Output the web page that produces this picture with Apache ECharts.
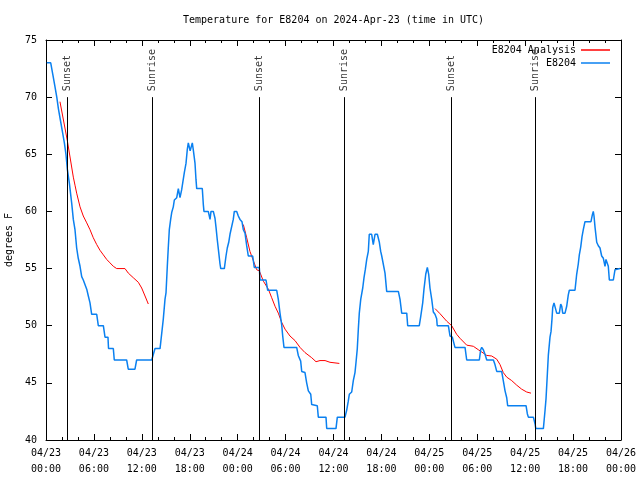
<!DOCTYPE html>
<html><head><meta charset="utf-8">
<script src="https://cdn.jsdelivr.net/npm/echarts@6/dist/echarts.min.js"></script>
<style>html,body{margin:0;padding:0;background:#fff}#c{width:640px;height:480px}</style>
</head><body><div id="c"></div>
<script>
// Observed temperature (hours since 2024-04-23 00:00 UTC, degrees F)
const obsHours = [0.10,0.59,0.85,1.10,1.35,1.55,1.80,2.05,2.30,2.50,2.67,2.92,3.22,3.42,3.63,3.84,4.04,4.26,4.47,4.67,5.10,5.30,5.51,5.72,6.35,6.55,7.18,7.39,7.76,7.83,8.43,8.55,10.10,10.30,11.14,11.35,13.24,13.65,14.28,14.69,14.90,15.03,15.19,15.31,15.44,15.61,15.74,15.94,16.07,16.37,16.57,16.78,16.99,17.12,17.32,17.53,17.69,17.82,18.05,18.32,18.44,18.66,18.78,18.87,19.57,19.70,19.78,20.32,20.54,20.66,20.95,21.16,21.29,21.45,21.63,21.79,21.88,22.33,22.54,22.70,22.88,23.04,23.29,23.45,23.58,23.88,24.08,24.29,24.54,24.71,24.92,25.13,25.33,25.88,26.08,26.71,26.80,27.55,27.76,28.89,29.09,29.30,29.51,29.64,29.80,31.39,31.59,31.89,32.02,32.43,32.64,32.85,33.15,33.27,33.40,33.97,34.10,35.06,35.15,36.31,36.48,37.44,37.65,37.85,37.98,38.28,38.48,38.69,38.82,38.98,39.11,39.23,39.41,39.66,39.82,39.98,40.16,40.36,40.48,40.78,40.98,41.20,41.49,41.74,41.91,42.04,42.24,42.45,42.66,44.12,44.33,44.54,45.17,45.29,46.74,46.92,47.17,47.33,47.55,47.75,47.92,48.08,48.30,48.50,48.71,48.92,48.99,50.38,50.59,50.88,51.21,52.47,52.68,54.26,54.43,54.56,54.76,54.97,55.19,56.02,56.22,56.44,57.06,57.26,57.48,57.69,57.81,60.11,60.27,60.40,61.03,61.24,61.33,62.28,62.49,62.61,62.78,62.90,63.11,63.24,63.36,63.45,63.61,63.74,63.95,64.28,64.45,64.58,64.70,64.99,65.20,65.40,65.53,66.24,66.45,66.65,66.78,66.96,67.12,67.28,67.49,68.24,68.41,68.53,68.62,68.75,68.96,69.16,69.37,69.58,69.79,70.00,70.12,70.29,70.41,70.54,71.04,71.25,71.46,71.87];
const obsTemps = [73,73,72,71,70,69,68,67,66,65,63.7,62.5,60.7,59.3,58.4,56.8,55.9,55.2,54.3,54,53.2,52.6,52,51,51,50,50,49,49,48,48,47,47,46.2,46.2,47,47,48,48,50.6,52.3,52.9,55.2,56.8,58.4,59.3,59.9,60.4,61,61.2,62,61.2,61.9,62.5,63.4,64.2,65.4,66,65.3,66,65.4,64.2,62.8,62,62,60.6,60,60,59.3,60,60,59.4,58.6,57.5,56.4,55.4,55,55,56.1,56.8,57.3,58,58.1,59.3,60,60,59.6,59.3,59.1,58.4,58.1,57,56.1,56.1,55.1,55.1,54,54,53.1,53.1,52.3,51.1,50.1,49.1,48.1,48.1,47.4,46.9,46,45.9,45,44.3,44,43.1,43,43,42,42,41,41,42,42,42.6,43.4,44,44.2,45.2,45.9,46.8,48,49.7,51.1,52.3,53.3,54.2,54.9,55.8,56.5,58,58,57.1,58,58,57.3,56.5,56.1,56,54.6,53,53,52.3,51.1,51.1,50,50,50.8,52,53.2,54.5,55.1,54.5,53.3,52.3,51.2,51,50.6,50,50,49.1,49,48.1,48.1,47,47,47.9,48.1,47.9,47.5,47,47,46.6,46,46,45.2,44.3,43.7,43,43,42.3,42,42,41.4,41,41,42.6,43.6,45.8,47.4,49,49.5,50.6,51.6,52,52,51.1,51.1,51.9,51.7,51.1,51.1,51.7,52.7,53.1,53.1,54.5,55.4,56.2,56.9,57.8,58.4,59.1,59.1,59.7,60,59.6,58.6,57.3,57,56.8,56.1,55.9,55.2,55.8,55.9,55.2,54,54,54.9,55,55];

// Analysis (night segments)
const anaHours1 = [1.75,2.67,3.42,3.63,3.84,4.26,4.67,5.10,5.51,5.92,6.35,6.76,7.18,7.60,8.01,8.43,8.85,9.89,10.31,10.93,11.56,11.98,12.40,12.81];
const anaTemps1 = [69.6,66.2,63.0,62.3,61.6,60.4,59.6,59.0,58.4,57.7,57.1,56.6,56.2,55.8,55.5,55.2,55.0,55.0,54.6,54.2,53.8,53.3,52.6,51.9];
const anaHours2 = [24.71,25.13,25.54,25.96,26.38,26.71,27.22,27.84,28.26,28.68,29.09,29.51,29.93,30.55,31.18,31.81,32.43,33.27,33.81,34.31,34.94,35.56,36.73];
const anaTemps2 = [58.85,57.7,56.5,55.7,54.9,54.8,53.9,53.2,52.45,51.7,51.1,50.3,49.7,49.1,48.7,48.1,47.65,47.2,46.85,46.95,46.95,46.8,46.7];
const anaHours3 = [48.71,49.34,50.17,50.80,51.42,51.84,52.68,53.51,54.13,54.56,55.19,55.81,56.44,56.85,57.26,57.69,58.31,58.94,59.56,60.19,60.73];
const anaTemps3 = [51.5,51.05,50.4,50.0,49.25,48.9,48.3,48.2,47.9,47.7,47.4,47.35,47.07,46.6,45.9,45.5,45.2,44.8,44.45,44.2,44.1];

// Sun events
const eventNames = ['Sunset','Sunrise','Sunset','Sunrise','Sunset','Sunrise'];
const eventHours = [2.71,13.32,26.72,37.31,50.73,61.28];
const eventTop = 70;

const dayLabels = ['04/23','04/24','04/25','04/26'];
const yMin = 40, yMax = 75, yStep = 5;
const xMin = 0, xMax = 72, xStep = 6;

const FONT = 'DejaVu Sans Mono';
const RED = '#ff0000', BLUE = '#0a80f0';
const zip = (a, b) => a.map((v, i) => [v, b[i]]);

function fmtX(v) {
  const d = Math.floor(Math.round(v) / 24);
  const hh = Math.round(v) % 24;
  return dayLabels[d] + '\n' + (hh < 10 ? '0' : '') + hh + ':00';
}

const chart = echarts.init(document.getElementById('c'), null, {renderer: 'canvas'});
const axisCommon = {
  type: 'value', min: xMin, max: xMax, interval: xStep,
  axisLine: {show: true, onZero: false, lineStyle: {color: '#000', width: 1}},
  axisTick: {show: true, inside: true, length: 6, lineStyle: {color: '#000'}},
  minorTick: {show: true, splitNumber: 3, length: 3, lineStyle: {color: '#000'}},
  splitLine: {show: false}
};
const anaSeries = [zip(anaHours1, anaTemps1), zip(anaHours2, anaTemps2), zip(anaHours3, anaTemps3)].map(d => ({
  name: 'E8204 Analysis', type: 'line', data: d, showSymbol: false, symbol: 'none',
  lineStyle: {color: RED, width: 1}, itemStyle: {color: RED}, z: 3, animation: false
}));
const legendText = {fontFamily: FONT, fontSize: 10, color: '#000'};

chart.setOption({
  animation: false,
  backgroundColor: '#fff',
  textStyle: {fontFamily: FONT},
  title: {
    text: 'Temperature for E8204 on 2024-Apr-23 (time in UTC)',
    left: 183, top: 15, padding: 0,
    textStyle: {fontFamily: FONT, fontSize: 10, fontWeight: 'normal', color: '#000'}
  },
  legend: [
    {data: [{name: 'E8204 Analysis', icon: 'rect', itemStyle: {color: RED}}], right: 30, top: 45, padding: 0, align: 'right',
     itemWidth: 29, itemHeight: 1.5, textStyle: legendText},
    {data: [{name: 'E8204', icon: 'rect', itemStyle: {color: BLUE}}], right: 30, top: 58, padding: 0, align: 'right',
     itemWidth: 29, itemHeight: 1.5, textStyle: legendText}
  ],
  grid: {left: 46, right: 19, top: 40, bottom: 40, containLabel: false, outerBoundsMode: 'none'},
  xAxis: [
    Object.assign({}, axisCommon, {position: 'bottom',
      axisLabel: {show: true, formatter: fmtX, margin: 5, lineHeight: 16, fontFamily: FONT, fontSize: 10, color: '#000', showMinLabel: true, showMaxLabel: true}}),
    Object.assign({}, axisCommon, {position: 'top', axisLabel: {show: false}})
  ],
  yAxis: [
    {type: 'value', min: yMin, max: yMax, interval: yStep, position: 'left',
     name: 'degrees F', nameLocation: 'middle', nameRotate: 90, nameGap: 30,
     nameTextStyle: {fontFamily: FONT, fontSize: 10, color: '#000'},
     axisLine: {show: true, onZero: false, lineStyle: {color: '#000'}},
     axisTick: {show: true, inside: true, length: 6, lineStyle: {color: '#000'}},
     axisLabel: {fontFamily: FONT, fontSize: 10, color: '#000', margin: 9},
     splitLine: {show: false}},
    {type: 'value', min: yMin, max: yMax, interval: yStep, position: 'right',
     axisLine: {show: true, onZero: false, lineStyle: {color: '#000'}},
     axisTick: {show: true, inside: true, length: 6, lineStyle: {color: '#000'}},
     axisLabel: {show: false}, splitLine: {show: false}}
  ],
  series: [
    {
      name: 'events', type: 'scatter', symbolSize: 0, z: 2,
      data: eventHours.map((h, i) => ({name: eventNames[i], value: [h, eventTop]})),
      label: {show: true, formatter: '{b}', position: 'top', distance: 6, rotate: 90,
              align: 'left', verticalAlign: 'middle', fontFamily: FONT, fontSize: 10, color: '#000'},
      markLine: {
        silent: true, symbol: 'none', animation: false,
        label: {show: false},
        lineStyle: {color: '#000', width: 1, type: 'solid'},
        data: eventHours.map(h => [{coord: [h, eventTop]}, {coord: [h, yMin]}])
      }
    },
    ...anaSeries,
    {
      name: 'E8204', type: 'line', data: zip(obsHours, obsTemps), showSymbol: false, symbol: 'none',
      lineStyle: {color: BLUE, width: 1.5}, itemStyle: {color: BLUE}, z: 4
    }
  ]
});
</script></body></html>
